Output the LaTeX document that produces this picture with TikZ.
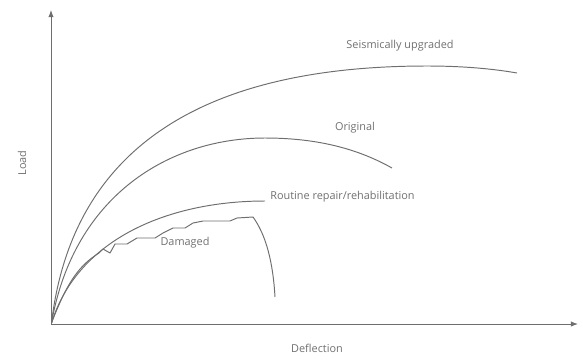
\documentclass[tikz,border=0pt]{standalone}
\usepackage{fontspec}
\setmainfont{Open Sans}
\usetikzlibrary{arrows.meta}
\definecolor{linegray}{HTML}{6E6E6E}
\definecolor{textgray}{HTML}{707070}
\tikzset{
  curve/.style={draw=linegray, line width=0.55pt, line join=round},
  axis/.style={draw=linegray, line width=0.55pt, -{Latex[length=4pt,width=3pt]}},
  lbl/.style={text=textgray, font=\fontsize{6.2}{7}\selectfont, inner sep=0pt}
}
\begin{document}
\begin{tikzpicture}[x=0.02cm, y=-0.02cm]
\useasboundingbox (0,0) rectangle (578,356);
\coordinate (O) at (51,324);
\coordinate (ytop) at (51,10);
\coordinate (xend) at (578,324);
\draw[axis] (O) -- (ytop);
\draw[axis] (O) -- (xend);
% Seismically upgraded
\draw[curve] (51.5,323) .. controls (72,150) and (200,66) .. (427,66)
  .. controls (470,66) and (500,70) .. (517,73);
% Original
\draw[curve] (51.5,323) .. controls (74,195) and (170,138) .. (265,138)
  .. controls (320,138) and (360,150) .. (392,168);
% Routine repair
\draw[curve] (51.5,323) .. controls (78,238) and (170,201) .. (265,201);
% Damaged
\draw[curve] (51.5,323) .. controls (68,280) and (80,265) .. (99,253)
  -- (103,249) -- (110,253) -- (115,244) -- (127,244) -- (137,238) -- (155,238) -- (163,233)
  -- (173,228) -- (185,228) -- (193,223) -- (203,221) -- (230,221) -- (237,218) -- (253,217)
  .. controls (266,235) and (273,262) .. (275,297);
\node[lbl] (seis) at (400,46) {Seismically upgraded};
\node[lbl] (orig) at (355,128) {Original};
\node[lbl, anchor=west] (rout) at (270,197) {Routine repair/rehabilitation};
\node[lbl] (dam) at (185,243) {Damaged};
\node[lbl, rotate=90] (load) at (22,163) {Load};
\node[lbl] (defl) at (317,348) {Deflection};
\end{tikzpicture}
\end{document}
